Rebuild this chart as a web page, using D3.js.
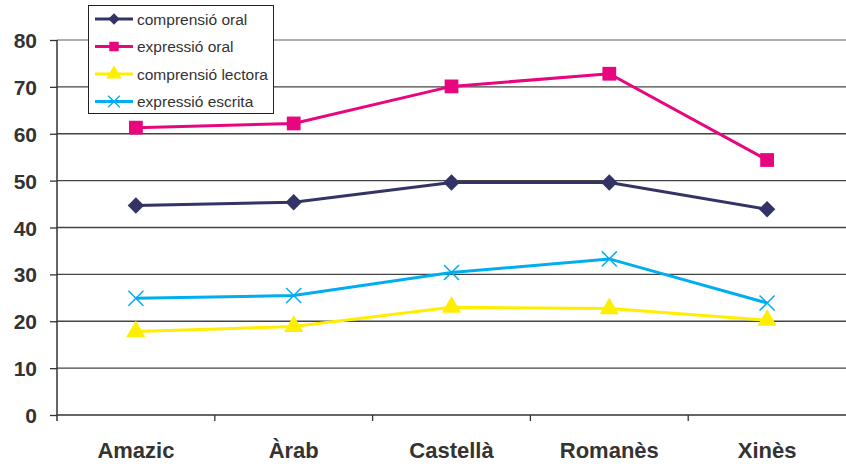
<!DOCTYPE html>
<html><head><meta charset="utf-8">
<script src="https://cdn.jsdelivr.net/npm/d3@7"></script>
<style>body{margin:0;background:#fff}svg{display:block}</style>
</head><body><svg id="c" width="846" height="466"></svg>
<script>
const categories = ["Amazic", "Àrab", "Castellà", "Romanès", "Xinès"];
const seriesNames = ["comprensió oral", "expressió oral", "comprensió lectora", "expressió escrita"];
const compOral = [44.7, 45.4, 49.6, 49.6, 43.9];
const exprOral = [61.3, 62.2, 70.1, 72.8, 54.4];
const compLect = [17.8, 18.9, 23.0, 22.7, 20.2];
const exprEscr = [24.9, 25.5, 30.4, 33.3, 23.9];
const yTicks = [0, 10, 20, 30, 40, 50, 60, 70, 80];

const colors = ["#333366", "#e8067f", "#ffee00", "#00aeef"];
const symbols = [d3.symbolSquare, d3.symbolSquare, d3.symbolTriangle, d3.symbolX];
const data = [compOral, exprOral, compLect, exprEscr];

const svg = d3.select("#c");
const x = d3.scaleBand().domain(categories).range([57, 846]);
const y = d3.scaleLinear().domain([0, 80]).range([415, 40]);

// gridlines
svg.append("g").selectAll("line").data(yTicks.filter(t => t > 0)).join("line")
  .attr("x1", 57).attr("x2", 846).attr("y1", d => y(d)).attr("y2", d => y(d))
  .attr("stroke", d => d === 80 ? "#9a8f8f" : "#444").attr("stroke-width", 1.3);

// y axis
const ya = svg.append("g").attr("transform", "translate(57,0)")
  .call(d3.axisLeft(y).tickValues(yTicks).tickSize(7).tickPadding(13).tickSizeOuter(0));
ya.select(".domain").remove();
ya.selectAll("line").attr("stroke", "#333").attr("stroke-width", 1.3);
ya.selectAll("text").attr("font-family", "Liberation Sans, Arial, sans-serif")
  .attr("font-size", 21).attr("font-weight", "bold").attr("fill", "#333").attr("dy", "0.36em");
svg.append("line").attr("x1", 57).attr("x2", 57).attr("y1", 40).attr("y2", 421)
  .attr("stroke", "#333").attr("stroke-width", 1.5);

// x axis
svg.append("line").attr("x1", 57).attr("x2", 846).attr("y1", 415).attr("y2", 415)
  .attr("stroke", "#333").attr("stroke-width", 1.5);
svg.append("g").selectAll("line").data(categories.slice(1)).join("line")
  .attr("x1", d => x(d)).attr("x2", d => x(d)).attr("y1", 415).attr("y2", 421)
  .attr("stroke", "#333").attr("stroke-width", 1.3);
svg.append("g").selectAll("text").data(categories).join("text")
  .attr("x", d => x(d) + x.bandwidth() / 2).attr("y", 458)
  .attr("text-anchor", "middle")
  .attr("font-family", "Liberation Sans, Arial, sans-serif")
  .attr("font-size", 22).attr("font-weight", "bold").attr("fill", "#333")
  .text(d => d);

// series
const line = d3.line().x((d, i) => x(categories[i]) + x.bandwidth() / 2).y(d => y(d));
const symSize = [135, 190, 160, 150];
const extra = [" rotate(45)", "", "", ""];
data.forEach((vals, si) => {
  svg.append("path").datum(vals).attr("d", line).attr("fill", "none")
    .attr("stroke", colors[si]).attr("stroke-width", 3);
  const sym = d3.symbol().type(symbols[si]).size(symSize[si]);
  svg.append("g").selectAll("path").data(vals).join("path")
    .attr("transform", (d, i) => `translate(${x(categories[i]) + x.bandwidth() / 2},${y(d)})` + extra[si])
    .attr("d", sym)
    .attr("fill", si === 3 ? "none" : colors[si])
    .attr("stroke", si === 3 ? colors[si] : "none")
    .attr("stroke-width", 1.5);
});

// legend
const lg = svg.append("g");
lg.append("rect").attr("x", 88.5).attr("y", 5.5).attr("width", 185).attr("height", 108)
  .attr("fill", "#fff").attr("stroke", "#222").attr("stroke-width", 1);
const legSize = [65, 90, 100, 90];
seriesNames.forEach((n, si) => {
  const yy = 19 + si * 27.5;
  lg.append("line").attr("x1", 95).attr("x2", 133).attr("y1", yy).attr("y2", yy)
    .attr("stroke", colors[si]).attr("stroke-width", 3);
  lg.append("path").attr("transform", `translate(114,${yy})` + extra[si])
    .attr("d", d3.symbol().type(symbols[si]).size(legSize[si])())
    .attr("fill", si === 3 ? "none" : colors[si])
    .attr("stroke", si === 3 ? colors[si] : "none").attr("stroke-width", 1.3);
  lg.append("text").attr("x", 137).attr("y", yy + 5.5)
    .attr("font-family", "Liberation Sans, Arial, sans-serif").attr("font-size", 15.5)
    .attr("fill", "#333").text(n);
});
</script></body></html>
